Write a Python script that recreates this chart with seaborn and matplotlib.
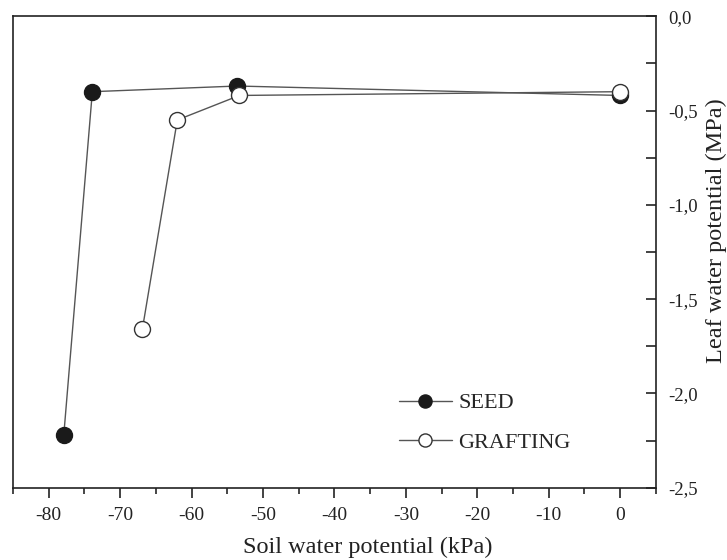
import matplotlib
matplotlib.use("Agg")
import numpy as np
import pandas as pd
import matplotlib.pyplot as plt
from matplotlib.ticker import MultipleLocator, FuncFormatter
import seaborn as sns


# Data
seed_soil = [-77.9, -73.9, -53.6, 0.0]
seed_leaf = [-2.22, -0.40, -0.37, -0.42]

graft_soil = [-66.9, -62.0, -53.3, 0.0]
graft_leaf = [-1.66, -0.55, -0.42, -0.40]


sns.set_style("ticks")
plt.rcParams["font.family"] = ["Liberation Serif", "DejaVu Serif"]
plt.rcParams["axes.unicode_minus"] = False

fig = plt.figure(figsize=(7.27, 5.60), dpi=100)
ax = fig.add_axes([0.018, 0.129, 0.884, 0.842])

seed = pd.DataFrame({"soil": seed_soil, "leaf": seed_leaf})
graft = pd.DataFrame({"soil": graft_soil, "leaf": graft_leaf})

sns.lineplot(
    data=seed, x="soil", y="leaf", ax=ax, sort=False,
    color="#555555", linewidth=1.0,
    marker="o", markersize=11.5, markerfacecolor="#1a1a1a",
    markeredgecolor="#1a1a1a", markeredgewidth=1.0, label="SEED"
)

sns.lineplot(
    data=graft, x="soil", y="leaf", ax=ax, sort=False,
    color="#555555", linewidth=1.0,
    marker="o", markersize=11.5, markerfacecolor="white",
    markeredgecolor="#333333", markeredgewidth=1.0, label="GRAFTING"
)

ax.set_xlim(-85, 5)
ax.set_ylim(-2.5, 0.0)

# x axis: ticks outward, minor every 5
ax.xaxis.set_major_locator(MultipleLocator(10))
ax.xaxis.set_minor_locator(MultipleLocator(5))
ax.tick_params(axis="x", which="major", direction="out", length=7, width=1.2,
               labelsize=14, pad=7, colors="#222222")
ax.tick_params(axis="x", which="minor", direction="out", length=4, width=1.2)

# y axis on the right, ticks inward
ax.yaxis.tick_right()
ax.yaxis.set_major_locator(MultipleLocator(0.5))
ax.yaxis.set_minor_locator(MultipleLocator(0.25))
ax.yaxis.set_major_formatter(FuncFormatter(lambda v, p: f"{v:.1f}".replace(".", ",")))
ax.tick_params(axis="y", which="both", direction="in", length=7, width=1.2,
               labelsize=13.5, pad=9, colors="#222222")

for s in ax.spines.values():
    s.set_linewidth(1.2)
    s.set_color("#222222")

ax.set_xlabel("")
ax.set_ylabel("")
fig.text(368 / 727, 1 - 547 / 560, "Soil water potential (kPa)", fontsize=17.5,
         ha="center", va="center", color="#222222")
fig.text(716 / 727, 1 - 231 / 560, "Leaf water potential (MPa)", fontsize=17.5,
         rotation=90, ha="center", va="center", color="#222222")

leg = ax.legend(
    loc="upper left", bbox_to_anchor=(0.586, 0.22), borderaxespad=0,
    frameon=False, fontsize=16, handlelength=2.4, labelspacing=0.85,
    handletextpad=0.3, markerscale=0.82
)

fig.savefig("out.png", dpi=100)
